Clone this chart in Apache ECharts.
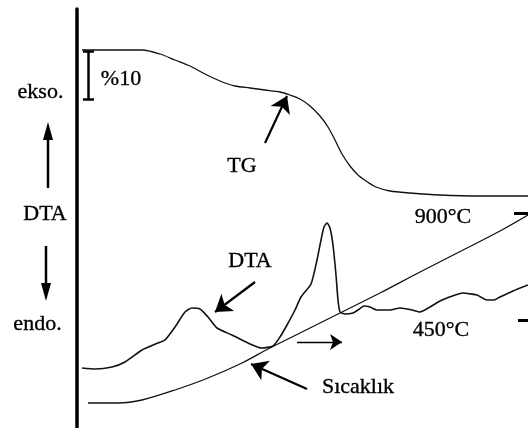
<!DOCTYPE html>
<html>
<head>
<meta charset="utf-8">
<script src="https://cdn.jsdelivr.net/npm/echarts@6/dist/echarts.min.js"></script>
<style>html,body{margin:0;padding:0;background:#fff}#c{width:528px;height:428px}</style>
</head>
<body>
<div id="c"></div>
<script>
// Schematic TG / DTA curves, arbitrary units: [time, signal]
var tgCurve = [[5,378],[65,378],[83,374],[98,368],[113,362],[128,354],[143,347],[158,342],[173,340],[188,338],[203,336],[213,333],[223,329],[233,322],[243,312],[251,301],[258,288],[265,274],[273,262],[281,253],[289,247],[299,241],[313,237],[333,235],[363,233],[403,232],[451,232]];
var dtaCurve = [[5,60],[18,59],[35,61],[48,66],[65,78],[81,85],[88,88],[98,101],[108,116],[115,120],[123,119],[131,111],[140,100],[155,93],[171,85],[185,80],[196,82],[203,91],[210,103],[218,118],[224,131],[234,144],[240,168],[244,188],[247,201],[250,205],[253,200],[256,183],[259,153],[261,128],[263,116],[268,114],[276,115],[281,118],[287,122],[293,121],[300,118],[313,118],[323,120],[335,118],[343,116],[353,121],[363,127],[370,130],[386,135],[394,134],[400,133],[410,128],[417,128],[423,131],[436,137],[451,143]];
var tempCurve = [[11,25],[41,25],[65,28],[98,38],[131,50],[165,65],[191,79],[223,95],[263,115],[303,135],[343,156],[390,180],[423,197],[451,213]];
// %10 scale bar: [x, top, bottom]
var scaleBar = [11.5, 377, 329];
// temperature marks: [label, xStart, xEnd, level]
var tempMarks = [['900°C', 437, 451, 215], ['450°C', 441, 451, 108]];
// annotation arrows: [from, to]
var arrowsBold = [[[188,285],[210,332]], [[178,146],[138,116]], [[230,39],[174,64]]];
var arrowsThin = [[[220,86],[265,86]]];

var serif = '"Liberation Serif","DejaVu Serif",serif';
var chart = echarts.init(document.getElementById('c'), null, {renderer:'canvas'});
var lineStyle = function(w){return {color:'#111', width:w};};
var option = {
  animation:false,
  grid:{left:77, right:0, top:9, bottom:0},
  xAxis:{type:'value', min:0, max:451, show:false},
  yAxis:{type:'value', min:0, max:419, axisLine:{show:true, lineStyle:{color:'#000', width:3.5}}, axisTick:{show:false}, axisLabel:{show:false}, splitLine:{show:false}},
  series:[
    {type:'line', data:tgCurve, showSymbol:false, smooth:0.3, lineStyle:lineStyle(1.3)},
    {type:'line', data:dtaCurve, showSymbol:false, smooth:0.2, lineStyle:lineStyle(1.6)},
    {type:'line', data:tempCurve, showSymbol:false, smooth:0.3, lineStyle:lineStyle(1.3)},
    {type:'lines', coordinateSystem:'cartesian2d', symbol:'none',
      lineStyle:{color:'#000', width:2.5, opacity:1},
      data:[
        {coords:[[scaleBar[0],scaleBar[1]],[scaleBar[0],scaleBar[2]]]},
        {coords:[[scaleBar[0]-5.5,scaleBar[1]],[scaleBar[0]+5.5,scaleBar[1]]]},
        {coords:[[scaleBar[0]-5.5,scaleBar[2]],[scaleBar[0]+5.5,scaleBar[2]]]}
      ].concat(tempMarks.map(function(m){return {coords:[[m[1],m[3]],[m[2],m[3]]], lineStyle:{width:3, opacity:1}};}))
    },
    {type:'lines', coordinateSystem:'cartesian2d', symbol:['none','arrow'], symbolSize:[9,16],
      lineStyle:{color:'#000', width:2.2, opacity:1},
      data:arrowsBold.map(function(a){return {coords:a};})},
    {type:'lines', coordinateSystem:'cartesian2d', symbol:['none','arrow'], symbolSize:[7,12],
      lineStyle:{color:'#000', width:1.3, opacity:1},
      data:arrowsThin.map(function(a){return {coords:a};})}
  ]
};
chart.setOption(option);

function txt(t, x, y){
  return {type:'text', x:x, y:y, style:{text:t, font:'22px '+serif, fill:'#000', stroke:'#000', lineWidth:0.35, align:'center', verticalAlign:'middle'}};
}
var els = [
  txt('ekso.', 40.5, 92), txt('DTA', 45, 214), txt('endo.', 37.5, 324),
  {type:'line', shape:{x1:48, y1:188, x2:48, y2:138}, style:{stroke:'#000', lineWidth:2.5}},
  {type:'polygon', shape:{points:[[43,140],[48,122],[53,140]]}, style:{fill:'#000'}},
  {type:'line', shape:{x1:46, y1:246, x2:46, y2:285}, style:{stroke:'#000', lineWidth:2.5}},
  {type:'polygon', shape:{points:[[41,283],[46,301],[51,283]]}, style:{fill:'#000'}},
  txt('%10', 121, 79), txt('TG', 242, 166), txt('DTA', 250, 261),
  txt('Sıcaklık', 358, 387),
  txt(tempMarks[0][0], 443, 217), txt(tempMarks[1][0], 441, 330)
];
chart.setOption({graphic:{elements:els}});
</script>
</body>
</html>
